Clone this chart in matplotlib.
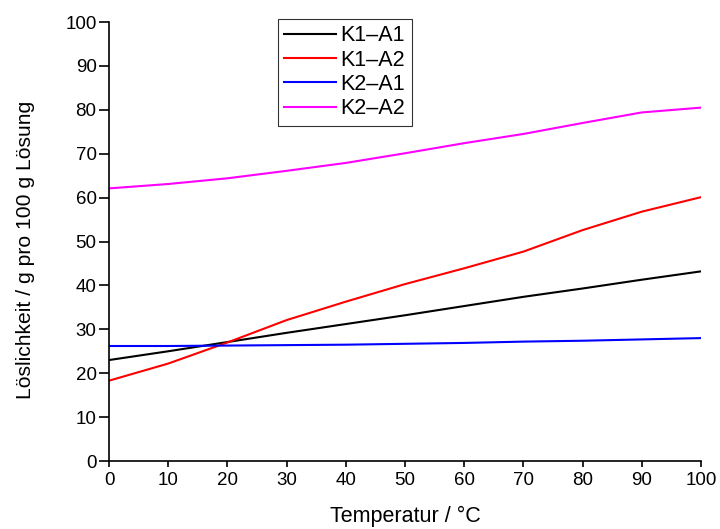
import matplotlib.pyplot as plt

plt.rcParams['font.family'] = ['Liberation Sans', 'DejaVu Sans']

# Temperatur / °C
temps = [0, 10, 20, 30, 40, 50, 60, 70, 80, 90, 100]

# Loeslichkeit / g pro 100 g Loesung
k1_a1 = [23.0, 25.0, 27.1, 29.2, 31.2, 33.2, 35.3, 37.4, 39.3, 41.3, 43.2]
k1_a2 = [18.3, 22.2, 27.0, 32.1, 36.3, 40.3, 43.9, 47.7, 52.6, 56.8, 60.1]
k2_a1 = [26.2, 26.2, 26.3, 26.4, 26.5, 26.7, 26.9, 27.2, 27.4, 27.7, 28.0]
k2_a2 = [62.1, 63.1, 64.4, 66.1, 67.9, 70.1, 72.4, 74.5, 77.0, 79.4, 80.5]

series = [
    ('K1–A1', k1_a1, 'black'),
    ('K1–A2', k1_a2, 'red'),
    ('K2–A1', k2_a1, 'blue'),
    ('K2–A2', k2_a2, 'magenta'),
]

fig = plt.figure(figsize=(7.2, 5.29), dpi=100)
ax = fig.add_axes([0.1514, 0.1285, 0.8222, 0.8299])

for label, vals, col in series:
    ax.plot(temps, vals, color=col, lw=1.5, label=label)

ax.set_xlim(0, 100)
ax.set_ylim(0, 100)
ax.set_xticks(range(0, 101, 10))
ax.set_yticks(range(0, 101, 10))
ax.tick_params(direction='out', width=1.2, labelsize=13.5, colors='black')
ax.tick_params(axis='y', length=7, pad=2)
ax.tick_params(axis='x', length=4, pad=4)
for side in ['top', 'right']:
    ax.spines[side].set_visible(False)
for side in ['left', 'bottom']:
    ax.spines[side].set_linewidth(1.2)

ax.set_xlabel('Temperatur / °C', fontsize=15.5, labelpad=12)
ax.set_ylabel('Löslichkeit / g pro 100 g Lösung', fontsize=15.2)
# label sits a bit below the axis middle in the original
ax.yaxis.set_label_coords(-0.125, 0.48)

leg = ax.legend(loc='upper left', bbox_to_anchor=(278/720, 1 - 19/529),
                bbox_transform=fig.transFigure, fontsize=15.5,
                frameon=True, fancybox=False, edgecolor='black',
                handlelength=2.4, borderpad=0.3, labelspacing=0.15,
                handletextpad=0.2, borderaxespad=0)
leg.get_frame().set_linewidth(0.8)

fig.savefig('out.png', dpi=100)
